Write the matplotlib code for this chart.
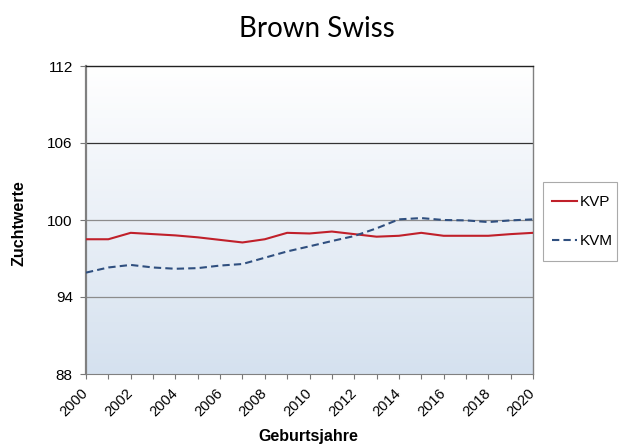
import numpy as np
import matplotlib
matplotlib.use("Agg")
import matplotlib.pyplot as plt
from matplotlib.colors import LinearSegmentedColormap
from matplotlib.patches import Rectangle

years = list(range(2000, 2021))
kvp = [98.5, 98.5, 99.0, 98.9, 98.8, 98.65, 98.45, 98.25, 98.5, 99.0, 98.95,
       99.1, 98.9, 98.7, 98.77, 99.0, 98.77, 98.77, 98.77, 98.9, 99.0]
kvm = [95.9, 96.3, 96.5, 96.3, 96.2, 96.25, 96.45, 96.57, 97.06, 97.55, 97.95,
       98.36, 98.75, 99.35, 100.05, 100.15, 100.0, 99.97, 99.84, 99.97, 100.05]
y_ticks = [88, 94, 100, 106, 112]
x_labels = list(range(2000, 2021, 2))

plt.rcParams['font.family'] = ['Liberation Sans', 'DejaVu Sans']

W, H = 626, 446
fig = plt.figure(figsize=(W / 100, H / 100), dpi=100)
ax = fig.add_axes([86 / W, 1 - 374 / H, (533 - 86) / W, (374 - 66) / H])

# vertical gradient background: white at top, pale blue at bottom
cmap = LinearSegmentedColormap.from_list("bg", ["#ffffff", "#d5e1ef"])
grad = np.linspace(0, 1, 256).reshape(-1, 1)
ax.imshow(grad, aspect="auto", cmap=cmap, extent=[0, 1, 0, 1],
          origin="upper", transform=ax.transAxes, zorder=0)

ax.set_xlim(2000, 2020)
ax.set_ylim(88, 112)

# horizontal reference lines
ax.axhline(94, color="#8c8c8c", lw=0.9, zorder=1)
ax.axhline(100, color="#8c8c8c", lw=0.9, zorder=1)
ax.axhline(106, color="#333333", lw=0.9, zorder=1)

ax.plot(years, kvp, color="#c0202a", lw=1.5, label="KVP", zorder=3)
ax.plot(years, kvm, color="#2f4f7f", lw=1.5, ls=(0, (3.5, 2)), label="KVM",
        zorder=3)

ax.set_yticks(y_ticks)
ax.set_xticks(x_labels)
ax.set_xticks(years, minor=True)
ax.set_xticklabels([str(v) for v in x_labels], rotation=45, ha="right",
                   va="center", rotation_mode="anchor", fontsize=10.5)
ax.tick_params(axis="y", labelsize=11, length=4.5, width=0.8, color="#777777",
               direction="out", pad=5)
ax.tick_params(axis="x", which="both", length=3.5, width=0.8, color="#777777",
               direction="out", pad=9)

for side in ["left", "bottom", "right"]:
    ax.spines[side].set_color("#808080")
ax.spines["left"].set_linewidth(1.6)
ax.spines["bottom"].set_linewidth(0.8)
ax.spines["right"].set_linewidth(1.0)
ax.spines["top"].set_color("#222222")
ax.spines["top"].set_linewidth(1.0)

fig.text(19 / W, 1 - 223 / H, "Zuchtwerte", fontsize=11.5,
         fontweight="bold", rotation=90, ha="center", va="center")
fig.text(308 / W, 1 - 437 / H, "Geburtsjahre", fontsize=11.5,
         fontweight="bold", ha="center", va="center")
fig.text(317 / W, 1 - 37 / H, "Brown Swiss", fontsize=20,
         family=["Lato", "DejaVu Sans"], ha="center", va="baseline")

# legend entries without frame, with a separate box drawn around them
leg = fig.legend(loc="upper left", bbox_to_anchor=(539 / W, 1 - 182 / H),
                 frameon=False, fontsize=11, handlelength=1.65,
                 handletextpad=0.15, labelspacing=1.63, borderpad=0.85,
                 borderaxespad=0)
box = Rectangle((543 / W, 1 - 261 / H), (617 - 543) / W, (261 - 182) / H,
                transform=fig.transFigure, facecolor="white",
                edgecolor="#aaaaaa", lw=0.8, zorder=0)
fig.patches.append(box)

fig.savefig("out.png", dpi=100)
